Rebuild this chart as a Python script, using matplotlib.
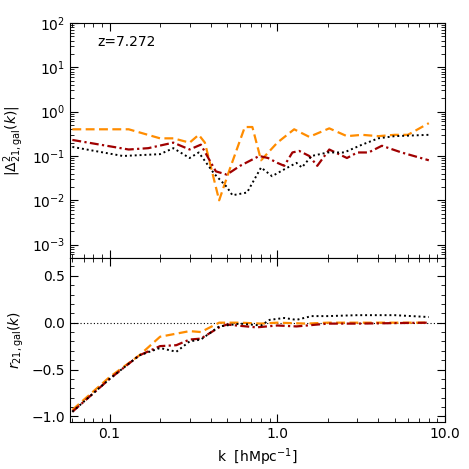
import numpy as np
import matplotlib.pyplot as plt
from matplotlib.ticker import FixedLocator, NullFormatter, LogLocator, MultipleLocator

# top panel: |Delta^2_21,gal(k)|
k_or = [0.06, 0.13, 0.2, 0.24, 0.3, 0.34, 0.37, 0.45, 0.52, 0.64, 0.71, 0.8, 1.0, 1.26, 1.55, 2.04, 2.6, 3.2, 4.0, 5.0, 6.0, 8.0]
d_or = [0.4, 0.4, 0.25, 0.25, 0.2, 0.3, 0.2, 0.01, 0.05, 0.45, 0.45, 0.08, 0.2, 0.4, 0.27, 0.42, 0.28, 0.3, 0.28, 0.3, 0.3, 0.55]
k_rd = [0.06, 0.13, 0.17, 0.24, 0.3, 0.35, 0.43, 0.5, 0.6, 0.78, 0.88, 1.0, 1.1, 1.23, 1.35, 1.55, 1.73, 2.04, 2.6, 3.0, 3.5, 4.2, 5.5, 8.0]
d_rd = [0.23, 0.14, 0.15, 0.2, 0.14, 0.18, 0.045, 0.038, 0.06, 0.1, 0.09, 0.07, 0.06, 0.12, 0.13, 0.1, 0.06, 0.14, 0.09, 0.12, 0.12, 0.17, 0.12, 0.08]
k_bk = [0.06, 0.12, 0.2, 0.24, 0.3, 0.34, 0.42, 0.5, 0.54, 0.66, 0.8, 0.93, 1.1, 1.3, 1.4, 1.6, 2.0, 2.5, 3.2, 4.0, 5.0, 8.0]
d_bk = [0.16, 0.1, 0.11, 0.15, 0.09, 0.12, 0.04, 0.02, 0.013, 0.015, 0.055, 0.035, 0.05, 0.07, 0.055, 0.1, 0.12, 0.12, 0.18, 0.25, 0.28, 0.3]

# bottom panel: r_21,gal(k)
kr_or = [0.06, 0.1, 0.15, 0.2, 0.3, 0.35, 0.45, 0.6, 0.8, 1.0, 1.5, 2.0, 4.0, 8.0]
r_or = [-0.93, -0.58, -0.35, -0.15, -0.09, -0.1, 0.0, 0.0, -0.01, 0.0, -0.01, 0.0, 0.0, 0.0]
kr_rd = [0.06, 0.1, 0.15, 0.2, 0.25, 0.3, 0.35, 0.45, 0.5, 0.75, 1.0, 1.3, 2.0, 3.0, 8.0]
r_rd = [-0.95, -0.6, -0.35, -0.25, -0.24, -0.18, -0.17, -0.05, -0.02, -0.05, -0.03, -0.04, -0.01, -0.01, 0.0]
kr_bk = [0.06, 0.1, 0.15, 0.2, 0.25, 0.3, 0.35, 0.45, 0.6, 0.8, 0.9, 1.1, 1.3, 1.6, 2.0, 3.0, 5.0, 8.0]
r_bk = [-0.95, -0.6, -0.35, -0.27, -0.31, -0.2, -0.18, -0.04, -0.01, -0.03, 0.03, 0.05, 0.03, 0.07, 0.07, 0.08, 0.08, 0.06]

orange = '#ff8c00'
darkred = '#a00000'

fig = plt.figure(figsize=(4.69, 4.69), dpi=100)
ax1 = fig.add_axes([0.149, 0.45, 0.80, 0.501])
ax2 = fig.add_axes([0.149, 0.10, 0.80, 0.35])

ax1.plot(k_or, d_or, color=orange, ls=(0, (4, 2)), lw=1.6)
ax1.plot(k_rd, d_rd, color=darkred, ls=(0, (4, 1.5, 1, 1.5)), lw=1.6)
ax1.plot(k_bk, d_bk, color='black', ls=(0, (1, 1.5)), lw=1.4)
ax1.set_xscale('log')
ax1.set_yscale('log')
ax1.set_xlim(0.058, 10)
ax1.set_ylim(10**-3.3, 100)
ax1.set_ylabel(r'$|\Delta^2_{21,\mathrm{gal}}(k)|$')
ax1.text(0.085, 30, 'z=7.272', fontsize=10)
ax1.yaxis.set_major_locator(LogLocator(base=10, numticks=10))
ax1.yaxis.set_minor_locator(LogLocator(base=10, subs=np.arange(2, 10), numticks=10))
ax1.xaxis.set_major_formatter(NullFormatter())
ax1.xaxis.set_minor_formatter(NullFormatter())

ax2.axhline(0, color='black', ls=(0, (1, 2)), lw=0.8)
ax2.plot(kr_or, r_or, color=orange, ls=(0, (4, 2)), lw=1.6)
ax2.plot(kr_rd, r_rd, color=darkred, ls=(0, (4, 1.5, 1, 1.5)), lw=1.6)
ax2.plot(kr_bk, r_bk, color='black', ls=(0, (1, 1.5)), lw=1.4)
ax2.set_xscale('log')
ax2.set_xlim(0.058, 10)
ax2.set_ylim(-1.06, 0.69)
ax2.yaxis.set_major_locator(MultipleLocator(0.5))
ax2.yaxis.set_minor_locator(MultipleLocator(0.1))
ax2.set_xticks([0.1, 1.0, 10.0])
ax2.set_xticklabels(['0.1', '1.0', '10.0'])
ax2.xaxis.set_minor_formatter(NullFormatter())
ax2.set_ylabel(r'$r_{21,\mathrm{gal}}(k)$')
ax2.set_xlabel(r'k  [hMpc$^{-1}$]')

for ax in (ax1, ax2):
    ax.tick_params(which='both', direction='in', top=True, right=True, labelsize=10)
    ax.tick_params(which='major', length=6)
    ax.tick_params(which='minor', length=3)

fig.savefig('out.png', dpi=100)
